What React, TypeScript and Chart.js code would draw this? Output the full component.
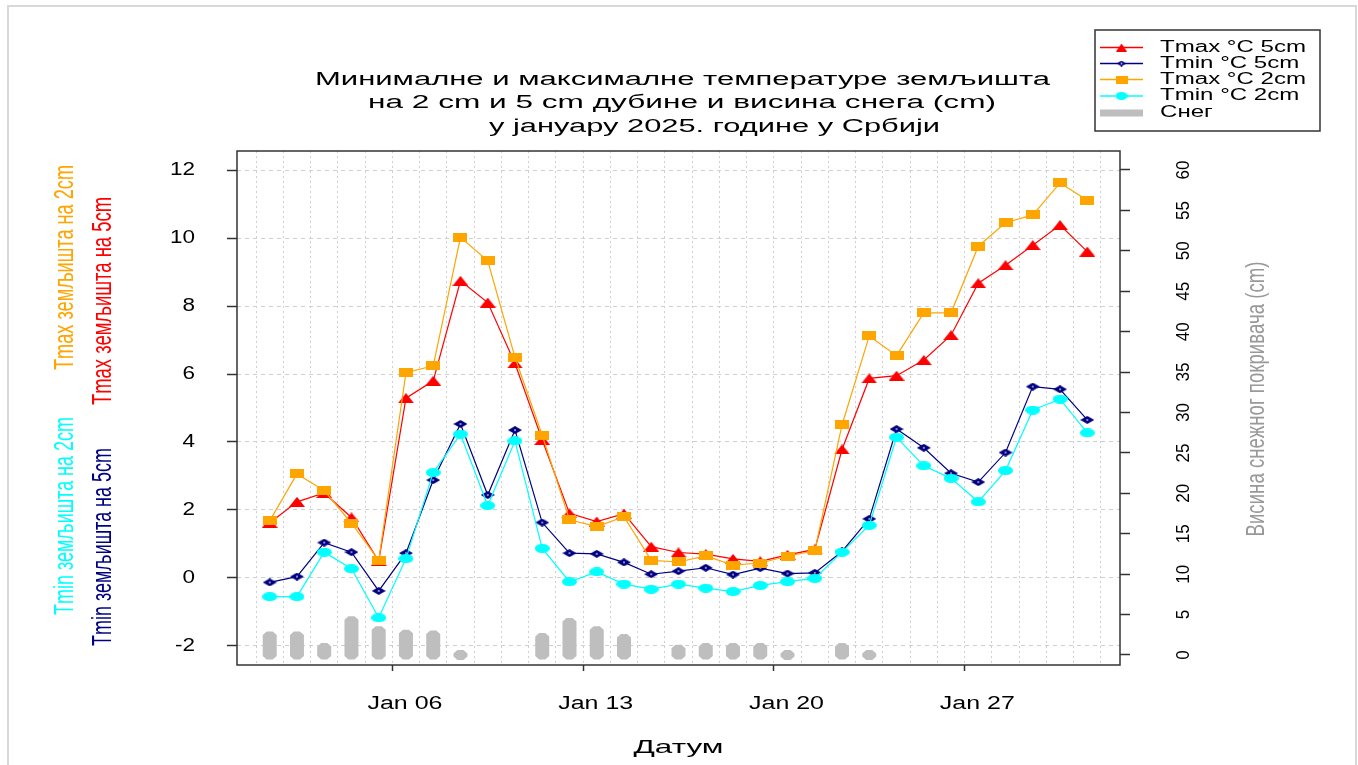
import React, { useEffect, useRef } from "react";
import { Chart, registerables } from "chart.js";

Chart.register(...registerables);

// ---------- data ----------
const days = [1, 2, 3, 4, 5, 6, 7, 8, 9, 10, 11, 12, 13, 14, 15, 16, 17, 18, 19, 20, 21, 22, 23, 24, 25, 26, 27, 28, 29, 30, 31];
const tmax5 = [1.62, 2.24, 2.5, 1.78, 0.5, 5.29, 5.8, 8.74, 8.1, 6.31, 4.06, 1.9, 1.66, 1.89, 0.92, 0.75, 0.7, 0.56, 0.49, 0.68, 0.84, 3.78, 5.87, 5.95, 6.41, 7.14, 8.67, 9.2, 9.79, 10.38, 9.6];
const tmin5 = [-0.13, 0.04, 1.04, 0.76, -0.38, 0.73, 2.88, 4.53, 2.44, 4.35, 1.63, 0.73, 0.71, 0.46, 0.11, 0.2, 0.3, 0.1, 0.29, 0.13, 0.15, 0.78, 1.74, 4.38, 3.83, 3.08, 2.82, 3.69, 5.63, 5.55, 4.65];
const tmax2 = [1.68, 3.06, 2.57, 1.61, 0.52, 6.04, 6.24, 10.02, 9.33, 6.49, 4.2, 1.71, 1.51, 1.8, 0.52, 0.47, 0.65, 0.38, 0.44, 0.64, 0.8, 4.5, 7.12, 6.54, 7.8, 7.8, 9.76, 10.45, 10.68, 11.62, 11.11];
const tmin2 = [-0.55, -0.55, 0.76, 0.27, -1.17, 0.57, 3.1, 4.23, 2.13, 4.03, 0.87, -0.11, 0.18, -0.18, -0.33, -0.18, -0.3, -0.4, -0.22, -0.11, -0.01, 0.76, 1.55, 4.14, 3.3, 2.93, 2.24, 3.16, 4.94, 5.26, 4.27];
const snow: (number | null)[] = [2.3, 2.3, 0.87, 4.16, 2.92, 2.51, 2.42, 0, null, null, 2.1, 3.96, 2.92, 1.98, null, 0.66, 0.87, 0.87, 0.87, 0, null, 0.87, 0, null, null, null, null, null, null, null, null];

const yTicks = [-2, 0, 2, 4, 6, 8, 10, 12];
const y2Ticks = [0, 5, 10, 15, 20, 25, 30, 35, 40, 45, 50, 55, 60];
const xTickDays = [6, 13, 20, 27];
const xTickLabels = ["Jan 06", "Jan 13", "Jan 20", "Jan 27"];

const titleLines = [
  "Минималне и максималне температуре земљишта",
  "на 2 cm и 5 cm дубине и висина снега (cm)",
  "у јануару 2025. године у Србији",
];
const seriesNames = ["Tmax °C 5cm", "Tmin °C 5cm", "Tmax °C 2cm", "Tmin °C 2cm", "Снег"];
const leftTitles = ["Tmax земљишта на 2cm", "Tmax земљишта на 5cm", "Tmin земљишта на 2cm", "Tmin земљишта на 5cm"];
const rightTitle = "Висина снежног покривача (cm)";
const xTitle = "Датум";

const RED = "#ff0000";
const NAVY = "#000080";
const ORANGE = "#ffa500";
const CYAN = "#00ffff";
const GRAY = "#bebebe";
const FONT = '"Liberation Sans", Arial, sans-serif';

function mk(kind: string, w: number, h: number, color: string): HTMLCanvasElement {
  const c = document.createElement("canvas");
  c.width = w;
  c.height = h;
  const g = c.getContext("2d")!;
  g.fillStyle = color;
  g.beginPath();
  if (kind === "rect") g.rect(0, 0, w, h);
  else if (kind === "tri") {
    g.moveTo(w / 2, 0);
    g.lineTo(w, h);
    g.lineTo(0, h);
    g.closePath();
  } else if (kind === "diamond") {
    g.moveTo(w / 2, 0);
    g.lineTo(w, h / 2);
    g.lineTo(w / 2, h);
    g.lineTo(0, h / 2);
    g.closePath();
  } else {
    g.ellipse(w / 2, h / 2, w / 2, h / 2, 0, 0, Math.PI * 2);
  }
  g.fill();
  if (kind === "diamond") {
    g.fillStyle = "#ffffff";
    g.beginPath();
    g.ellipse(w / 2, h / 2, 1.0, 0.8, 0, 0, Math.PI * 2);
    g.fill();
  }
  return c;
}

type TOpt = {
  size: number;
  color: string;
  align?: CanvasTextAlign;
  rot?: number;
  sx?: number;
  sy?: number;
  width?: number;
};

function drawText(ctx: CanvasRenderingContext2D, s: string, x: number, y: number, o: TOpt) {
  ctx.save();
  ctx.font = `${o.size}px ${FONT}`;
  ctx.fillStyle = o.color;
  ctx.textBaseline = "middle";
  ctx.textAlign = o.align || "center";
  ctx.translate(x, y);
  if (o.rot) ctx.rotate(o.rot);
  let sx = o.sx ?? 1;
  if (o.width) sx = o.width / ctx.measureText(s).width;
  ctx.scale(sx, o.sy ?? 1);
  ctx.fillText(s, 0, 0);
  ctx.restore();
}

function fitFactor(ctx: CanvasRenderingContext2D, s: string, size: number, target: number) {
  ctx.save();
  ctx.font = `${size}px ${FONT}`;
  const w = ctx.measureText(s).width;
  ctx.restore();
  return target / w;
}

export default function App() {
  const ref = useRef<HTMLCanvasElement | null>(null);

  useEffect(() => {
    const canvas = ref.current;
    if (!canvas) return;

    const mTri = mk("tri", 16, 10, RED);
    const mDia = mk("diamond", 14, 8, NAVY);
    const mRect = mk("rect", 14, 9, ORANGE);
    const mEll = mk("ellipse", 15, 9, CYAN);
    const lgTri = mk("tri", 11, 8, RED);
    const lgDia = mk("diamond", 9, 6, NAVY);
    const lgRect = mk("rect", 12, 8, ORANGE);
    const lgEll = mk("ellipse", 12, 8, CYAN);

    const pts = (arr: number[]) => days.map((d, i) => ({ x: d, y: arr[i] }));
    const snowPts = days
      .map((d, i) => ({ x: d, y: snow[i] }))
      .filter((p) => p.y !== null) as { x: number; y: number }[];

    // snow "bars": thick segments with pointed caps (like R's type="h" with a wide lwd)
    const snowShape = {
      id: "snowShape",
      beforeDatasetDraw(chart: any, args: any) {
        if (args.meta.type !== "bar") return;
        const ctx: CanvasRenderingContext2D = chart.ctx;
        ctx.save();
        ctx.fillStyle = GRAY;
        args.meta.data.forEach((el: any) => {
          const x = el.x;
          const top = Math.min(el.y, el.base);
          const bot = Math.max(el.y, el.base);
          const hw = 7;
          const c = 3;
          const cap = 5;
          ctx.beginPath();
          ctx.moveTo(x - c, top - cap);
          ctx.lineTo(x + c, top - cap);
          ctx.lineTo(x + hw, top - 1.5);
          ctx.lineTo(x + hw, bot + 1.5);
          ctx.lineTo(x + c, bot + cap);
          ctx.lineTo(x - c, bot + cap);
          ctx.lineTo(x - hw, bot + 1.5);
          ctx.lineTo(x - hw, top - 1.5);
          ctx.closePath();
          ctx.fill();
        });
        ctx.restore();
        return false;
      },
    };

    const decor = {
      id: "decor",
      afterDraw(chart: any) {
        const ctx: CanvasRenderingContext2D = chart.ctx;
        const { left, right, top, bottom } = chart.chartArea;
        const xs = chart.scales.x;
        const ys = chart.scales.y;
        const y2s = chart.scales.y2;

        // plot box
        ctx.save();
        ctx.strokeStyle = "#333333";
        ctx.lineWidth = 1.5;
        ctx.strokeRect(left, top, right - left, bottom - top);
        ctx.restore();

        // title
        drawText(ctx, titleLines[0], 682.5, 80, { size: 18, color: "#000", width: 735 });
        drawText(ctx, titleLines[1], 682, 103, { size: 18, color: "#000", width: 628 });
        drawText(ctx, titleLines[2], 714.5, 127, { size: 18, color: "#000", width: 451 });

        // left tick labels
        const fy = fitFactor(ctx, "12", 18, 25);
        yTicks.forEach((v) => {
          drawText(ctx, String(v), left - 42, ys.getPixelForValue(v), { size: 18, color: "#000", align: "right", sx: fy });
        });

        // x tick labels
        const fx = fitFactor(ctx, xTickLabels[0], 18, 75);
        xTickDays.forEach((d, i) => {
          drawText(ctx, xTickLabels[i], xs.getPixelForValue(d) - 1, bottom + 39, { size: 18, color: "#000", sx: fx });
        });
        drawText(ctx, xTitle, (left + right) / 2, 748, { size: 19, color: "#000", width: 90 });

        // right tick labels (rotated)
        const fr = fitFactor(ctx, "60", 16, 19);
        y2Ticks.forEach((v) => {
          drawText(ctx, String(v), right + 64, y2s.getPixelForValue(v), { size: 16, color: "#000", rot: -Math.PI / 2, sx: fr, sy: 1.15 });
        });
        drawText(ctx, rightTitle, 1257, 399, { size: 19, color: "#999999", rot: -Math.PI / 2, width: 275, sy: 1.35 });

        // left rotated titles
        drawText(ctx, leftTitles[0], 66, 267.5, { size: 20, color: ORANGE, rot: -Math.PI / 2, width: 205, sy: 1.35 });
        drawText(ctx, leftTitles[1], 104, 301, { size: 20, color: RED, rot: -Math.PI / 2, width: 208, sy: 1.35 });
        drawText(ctx, leftTitles[2], 66, 516, { size: 20, color: CYAN, rot: -Math.PI / 2, width: 198, sy: 1.35 });
        drawText(ctx, leftTitles[3], 104, 547, { size: 20, color: NAVY, rot: -Math.PI / 2, width: 198, sy: 1.35 });

        // legend
        ctx.save();
        ctx.fillStyle = "#ffffff";
        ctx.fillRect(1095, 30, 225, 101);
        ctx.strokeStyle = "#333333";
        ctx.lineWidth = 1.5;
        ctx.strokeRect(1095, 30, 225, 101);
        ctx.restore();
        const rows = [47.5, 63.5, 79.5, 96, 113];
        const cols = [RED, NAVY, ORANGE, CYAN, GRAY];
        const marks = [lgTri, lgDia, lgRect, lgEll, null];
        const fl = fitFactor(ctx, seriesNames[0], 16, 146);
        rows.forEach((ry, i) => {
          ctx.save();
          ctx.strokeStyle = cols[i];
          ctx.lineWidth = i === 4 ? 7 : 1.3;
          ctx.beginPath();
          ctx.moveTo(1100, ry);
          ctx.lineTo(1143, ry);
          ctx.stroke();
          const m = marks[i];
          if (m) ctx.drawImage(m, 1121.5 - m.width / 2, ry - m.height / 2);
          ctx.restore();
          drawText(ctx, seriesNames[i], 1160, ry, { size: 16, color: "#000", align: "left", sx: fl });
        });
      },
    };

    const lineDs = (label: string, arr: number[], color: string, pstyle: HTMLCanvasElement, order: number) => ({
      type: "line" as const,
      label,
      data: pts(arr),
      borderColor: color,
      backgroundColor: color,
      borderWidth: 1.2,
      pointStyle: pstyle,
      pointRadius: 5,
      tension: 0,
      order,
      yAxisID: "y",
      xAxisID: "x",
    });

    const chart = new Chart(canvas, {
      type: "line",
      data: {
        datasets: [
          {
            type: "bar",
            label: seriesNames[4],
            data: snowPts,
            yAxisID: "y2",
            xAxisID: "x",
            backgroundColor: GRAY,
            barThickness: 14,
            borderWidth: 0,
            order: 5,
          } as any,
          lineDs(seriesNames[0], tmax5, RED, mTri, 4),
          lineDs(seriesNames[1], tmin5, NAVY, mDia, 3),
          lineDs(seriesNames[2], tmax2, ORANGE, mRect, 2),
          lineDs(seriesNames[3], tmin2, CYAN, mEll, 1),
        ],
      },
      options: {
        responsive: false,
        animation: false,
        events: [],
        layout: { padding: { top: 151, left: 0, right: 0, bottom: 0 } },
        plugins: {
          legend: { display: false },
          title: { display: false },
          tooltip: { enabled: false },
        },
        scales: {
          x: {
            type: "linear",
            min: -0.2,
            max: 32.2,
            offset: false,
            afterFit: (s: any) => {
              s.height = 100;
            },
            afterBuildTicks: (s: any) => {
              s.ticks = days.map((v) => ({ value: v }));
            },
            ticks: { display: false },
            grid: {
              color: "#cfcfcf",
              lineWidth: 1,
              drawTicks: true,
              tickLength: 6,
              tickWidth: 1.5,
              tickBorderDash: [],
              tickColor: (c: any) => (c.tick && xTickDays.includes(c.tick.value) ? "#333333" : "rgba(0,0,0,0)"),
            },
            border: { display: false, dash: [2, 3] },
          },
          y: {
            type: "linear",
            position: "left",
            min: -2.56,
            max: 12.56,
            afterFit: (s: any) => {
              s.width = 237;
            },
            afterBuildTicks: (s: any) => {
              s.ticks = yTicks.map((v) => ({ value: v }));
            },
            ticks: { display: false },
            grid: {
              color: "#cfcfcf",
              lineWidth: 1,
              drawTicks: true,
              tickLength: 10,
              tickWidth: 1.5,
              tickColor: "#333333",
              tickBorderDash: [],
            },
            border: { display: false, dash: [4, 4] },
          },
          y2: {
            type: "linear",
            position: "right",
            min: -1.24,
            max: 62.35,
            afterFit: (s: any) => {
              s.width = 238;
            },
            afterBuildTicks: (s: any) => {
              s.ticks = y2Ticks.map((v) => ({ value: v }));
            },
            ticks: { display: false },
            grid: {
              drawOnChartArea: false,
              drawTicks: true,
              tickLength: 10,
              tickWidth: 1.5,
              tickColor: "#333333",
              color: "#333333",
            },
            border: { display: false },
          },
        },
      } as any,
      plugins: [snowShape, decor],
    });

    return () => {
      chart.destroy();
    };
  }, []);

  return (
    <div style={{ position: "fixed", left: 0, top: 0, width: 1358, height: 765, overflow: "hidden", background: "#ffffff" }}>
      <div
        style={{
          position: "absolute",
          left: 7,
          top: 5,
          width: 1350,
          height: 800,
          border: "2px solid #d8d8d8",
          boxSizing: "border-box",
        }}
      />
      <canvas ref={ref} width={1358} height={765} style={{ position: "absolute", left: 0, top: 0, width: 1358, height: 765 }} />
    </div>
  );
}
